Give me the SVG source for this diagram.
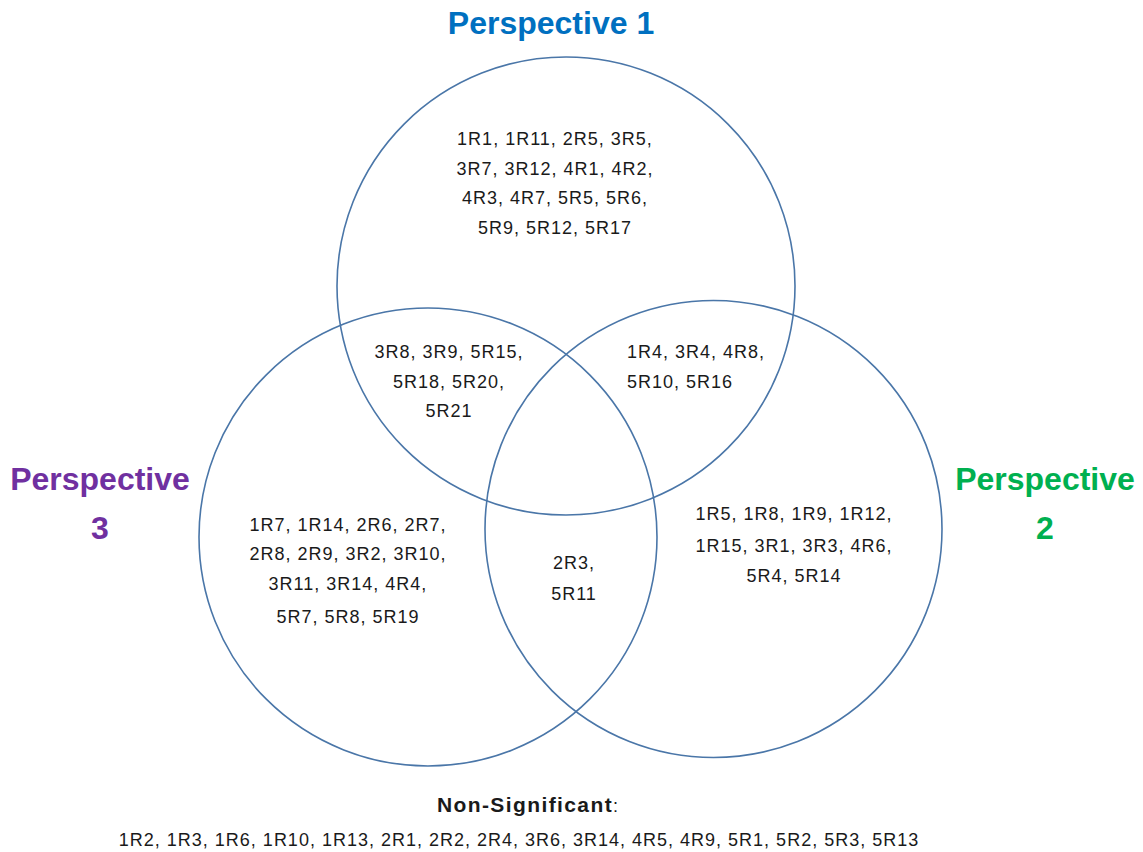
<svg xmlns="http://www.w3.org/2000/svg" width="1143" height="852" viewBox="0 0 1143 852">
  <style>
    .ring { fill: none; stroke: #4a76a8; stroke-width: 1.6; }
    .lbl { font-family: "Liberation Sans", Arial, sans-serif; font-size: 18px; letter-spacing: 1px; fill: #1a1a1a; }
    .mid { text-anchor: middle; }
    .title { font-family: "Liberation Sans", Arial, sans-serif; font-size: 32px; font-weight: bold; text-anchor: middle; }
    .head { font-weight: bold; font-size: 21px; letter-spacing: 1.4px; }
  </style>
  <rect width="1143" height="852" fill="#ffffff"/>

  <!-- circles -->
  <g id="circle-p1"><circle class="ring" cx="566" cy="286" r="229"/></g>
  <g id="circle-p3"><circle class="ring" cx="428" cy="537" r="229"/></g>
  <g id="circle-p2"><circle class="ring" cx="713.5" cy="529" r="228.5"/></g>

  <!-- set titles -->
  <g id="title-p1"><text class="title" x="551" y="34" fill="#0070c0">Perspective 1</text></g>
  <g id="title-p3" fill="#7030a0">
    <text class="title" x="100" y="490">Perspective</text>
    <text class="title" x="100" y="539">3</text>
  </g>
  <g id="title-p2" fill="#00b050">
    <text class="title" x="1045" y="490">Perspective</text>
    <text class="title" x="1045" y="539">2</text>
  </g>

  <!-- region contents -->
  <g id="only-p1" class="lbl mid">
    <text x="555" y="145">1R1, 1R11, 2R5, 3R5,</text>
    <text x="555" y="175">3R7, 3R12, 4R1, 4R2,</text>
    <text x="555" y="204">4R3, 4R7, 5R5, 5R6,</text>
    <text x="555" y="234">5R9, 5R12, 5R17</text>
  </g>
  <g id="p1-p3" class="lbl mid">
    <text x="449" y="358">3R8, 3R9, 5R15,</text>
    <text x="449" y="388">5R18, 5R20,</text>
    <text x="449" y="417">5R21</text>
  </g>
  <g id="p1-p2" class="lbl">
    <text x="627" y="358">1R4, 3R4, 4R8,</text>
    <text x="627" y="388">5R10, 5R16</text>
  </g>
  <g id="only-p3" class="lbl mid">
    <text x="348" y="531">1R7, 1R14, 2R6, 2R7,</text>
    <text x="348" y="560">2R8, 2R9, 3R2, 3R10,</text>
    <text x="348" y="590">3R11, 3R14, 4R4,</text>
    <text x="348" y="623">5R7, 5R8, 5R19</text>
  </g>
  <g id="p2-p3" class="lbl mid">
    <text x="574" y="569">2R3,</text>
    <text x="574" y="600">5R11</text>
  </g>
  <g id="only-p2" class="lbl mid">
    <text x="794" y="520">1R5, 1R8, 1R9, 1R12,</text>
    <text x="794" y="552">1R15, 3R1, 3R3, 4R6,</text>
    <text x="794" y="582">5R4, 5R14</text>
  </g>

  <!-- outside all sets -->
  <g id="non-significant" class="lbl mid">
    <text x="528" y="812"><tspan class="head">Non-Significant</tspan>:</text>
    <text x="519" y="846">1R2, 1R3, 1R6, 1R10, 1R13, 2R1, 2R2, 2R4, 3R6, 3R14, 4R5, 4R9, 5R1, 5R2, 5R3, 5R13</text>
  </g>

  <g id="connectors"/>
</svg>
